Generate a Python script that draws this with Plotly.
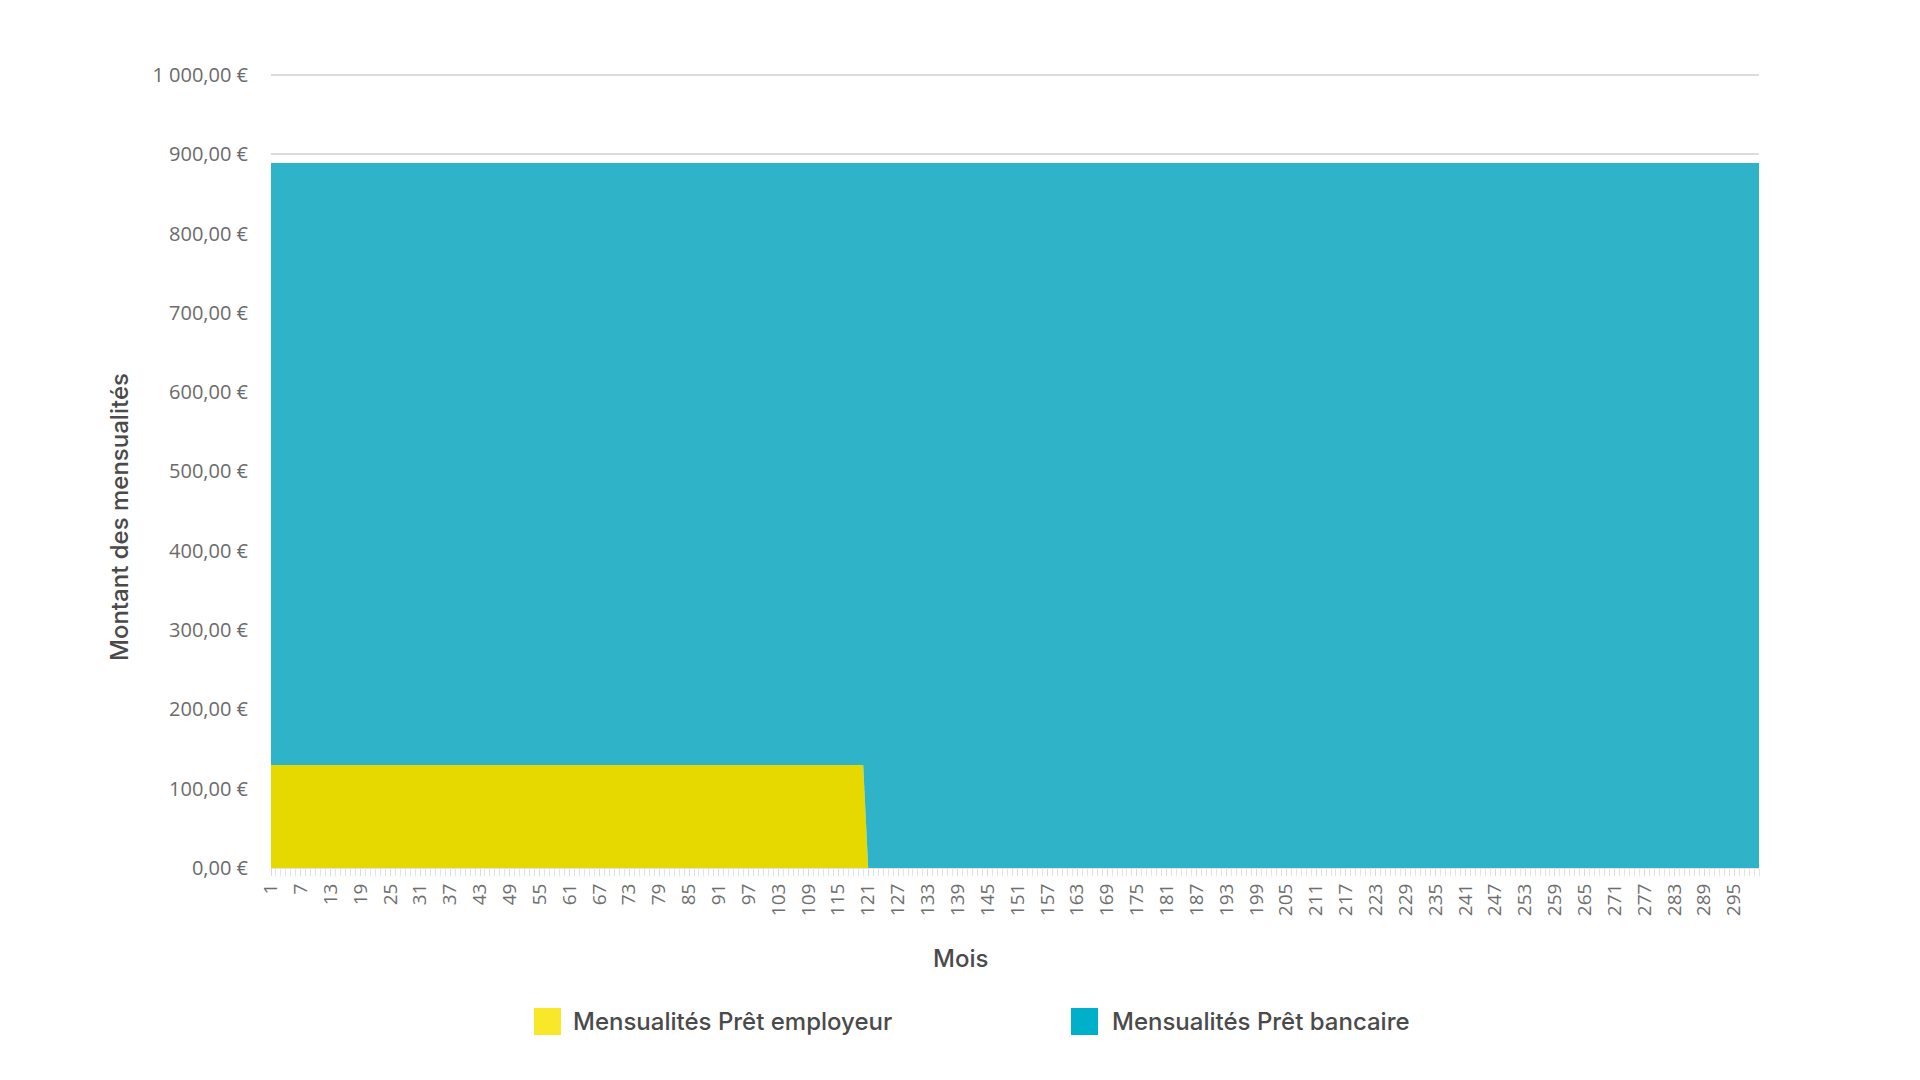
import plotly.graph_objects as go

# ---- data ----
months = list(range(1, 301))
employer = [130.0] * 120 + [0.0] * 180          # Mensualités Prêt employeur
bank = [759.0] * 120 + [889.0] * 180            # Mensualités Prêt bancaire
x_tickvals = list(range(1, 301, 6))
x_ticktext = [str(v) for v in x_tickvals]
y_tickvals = [0, 100, 200, 300, 400, 500, 600, 700, 800, 900, 1000]
y_ticktext = ["0,00 €", "100,00 €", "200,00 €", "300,00 €", "400,00 €", "500,00 €",
              "600,00 €", "700,00 €", "800,00 €", "900,00 €", "1 000,00 €"]
series_names = ["Mensualités Prêt employeur", "Mensualités Prêt bancaire"]

# ---- layout geometry (pixels) ----
W, H = 1920, 1080
L, R, T, B = 271, 1759, 73, 868
Y_MAX = 1002.5


def px(x):
    return (x - L) / (R - L)


def py(y):
    return (B - y) / (B - T)


AREA_YELLOW = "#E6D900"
AREA_BLUE = "#2EB3C8"
LEG_YELLOW = "#F9E829"
LEG_BLUE = "#00B0CA"

fig = go.Figure()
fig.add_trace(go.Scatter(x=months, y=employer, name=series_names[0], mode="lines",
                         stackgroup="one", line=dict(width=0, color=AREA_YELLOW),
                         fillcolor=AREA_YELLOW, showlegend=False))
fig.add_trace(go.Scatter(x=months, y=bank, name=series_names[1], mode="lines",
                         stackgroup="one", line=dict(width=0, color=AREA_BLUE),
                         fillcolor=AREA_BLUE, showlegend=False))

ytick_font = dict(family="Open Sans, sans-serif", size=20, color="#6b6b6b")
xtick_font = dict(family="Open Sans, sans-serif", size=19, color="#6e6e6e")
title_font = dict(family="Inter, sans-serif", size=24, color="#4a4a4a", weight=500)

fig.update_layout(
    width=W, height=H,
    margin=dict(l=L, r=W - R, t=T, b=H - B, autoexpand=False),
    paper_bgcolor="white", plot_bgcolor="white",
    showlegend=False,
    xaxis=dict(range=[1, 300], tickvals=x_tickvals, ticktext=x_ticktext,
               tickangle=-90, tickfont=xtick_font, showgrid=False, zeroline=False,
               showline=True, linecolor="#e3e3e3", linewidth=1,
               ticks="outside", ticklen=7, tickcolor="#d9d9d9", tickwidth=1,
               minor=dict(dtick=1, tick0=1, ticks="outside", ticklen=7,
                          tickcolor="#e3e3e3", tickwidth=1, showgrid=False),
               automargin=False, fixedrange=True),
    yaxis=dict(range=[0, Y_MAX], tickvals=y_tickvals, ticktext=y_ticktext,
               tickfont=ytick_font, showgrid=True, gridcolor="#dcdcdc", gridwidth=2,
               zeroline=False, showline=False, ticks="", ticklabelstandoff=22,
               automargin=False, fixedrange=True),
)

annotations = [
    dict(text="Montant des mensualités", x=px(119), y=py(517), xref="paper", yref="paper",
         textangle=-90, showarrow=False, xanchor="center", yanchor="middle", font=title_font),
    dict(text="Mois", x=px(960), y=py(958), xref="paper", yref="paper",
         showarrow=False, xanchor="center", yanchor="middle", font=title_font),
    dict(text=series_names[0], x=px(571), y=py(1021), xref="paper", yref="paper",
         showarrow=False, xanchor="left", yanchor="middle", font=title_font),
    dict(text=series_names[1], x=px(1110), y=py(1021), xref="paper", yref="paper",
         showarrow=False, xanchor="left", yanchor="middle", font=title_font),
]
fig.update_layout(annotations=annotations)

shapes = [
    dict(type="rect", xref="paper", yref="paper", x0=px(534), x1=px(561),
         y0=py(1035), y1=py(1008), fillcolor=LEG_YELLOW, line=dict(width=0)),
    dict(type="rect", xref="paper", yref="paper", x0=px(1071), x1=px(1098),
         y0=py(1035), y1=py(1008), fillcolor=LEG_BLUE, line=dict(width=0)),
]
fig.update_layout(shapes=shapes)

fig.write_html("out.html", config={"displayModeBar": False})
